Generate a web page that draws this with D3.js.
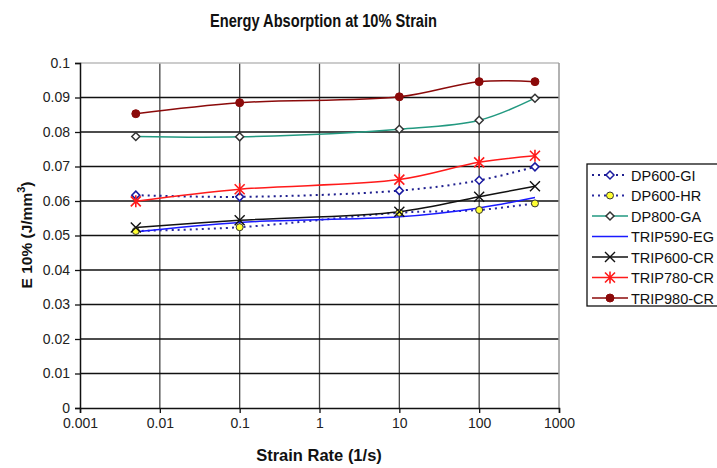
<!DOCTYPE html>
<html><head><meta charset="utf-8">
<script src="https://cdn.jsdelivr.net/npm/d3@7"></script>
<style>body{margin:0;background:#fff;}svg{display:block;font-family:Arial,"Liberation Sans",sans-serif;}</style>
</head><body><svg id="c" width="717" height="468"></svg>
<script>
const strainRates = [0.005, 0.1, 10, 100, 500];
const xTicks = [0.001, 0.01, 0.1, 1, 10, 100, 1000];
const yTicks = [0, 0.01, 0.02, 0.03, 0.04, 0.05, 0.06, 0.07, 0.08, 0.09, 0.1];
const seriesNames = ["DP600-GI","DP600-HR","DP800-GA","TRIP590-EG","TRIP600-CR","TRIP780-CR","TRIP980-CR"];
const dp600gi  = [0.0617, 0.0612, 0.0630, 0.0660, 0.0699];
const dp600hr  = [0.0513, 0.0524, 0.0566, 0.0574, 0.0593];
const dp800ga  = [0.0787, 0.0786, 0.0808, 0.0834, 0.0898];
const trip590  = [0.0511, 0.0538, 0.0554, 0.0580, 0.0610];
const trip600  = [0.0523, 0.0544, 0.0569, 0.0612, 0.0643];
const trip780  = [0.0599, 0.0634, 0.0662, 0.0712, 0.0731];
const trip980  = [0.0853, 0.0885, 0.0902, 0.0946, 0.0946];

const series = [
  {name:seriesNames[0], values:dp600gi, color:"#1f1f8f", dash:"2,4", marker:"diamond", mfill:"#fff", mstroke:"#1a1aa0"},
  {name:seriesNames[1], values:dp600hr, color:"#2a2aa0", dash:"2,4", marker:"circle", mfill:"#ffff33", mstroke:"#333"},
  {name:seriesNames[2], values:dp800ga, color:"#229980", dash:null, marker:"diamond", mfill:"#fff", mstroke:"#333"},
  {name:seriesNames[3], values:trip590, color:"#1a1aff", dash:null, marker:null},
  {name:seriesNames[4], values:trip600, color:"#111", dash:null, marker:"x", mstroke:"#111"},
  {name:seriesNames[5], values:trip780, color:"#ff1a1a", dash:null, marker:"star", mstroke:"#ff1a1a"},
  {name:seriesNames[6], values:trip980, color:"#8b0a0a", dash:null, marker:"dot", mfill:"#8b0a0a", mstroke:"#8b0a0a"}
];

const svg = d3.select("#c");
const L = 80, R = 559, T = 63, B = 408;
const x = d3.scaleLog().domain([0.001, 1000]).range([L, R]);
const y = d3.scaleLinear().domain([0, 0.1]).range([B, T]);

// gridlines
svg.append("g").selectAll("line").data(xTicks.slice(1, -1)).join("line")
  .attr("x1", d => x(d)).attr("x2", d => x(d)).attr("y1", T).attr("y2", B)
  .attr("stroke", "#444").attr("stroke-width", 1.3);
svg.append("g").selectAll("line").data(yTicks.slice(1, -1)).join("line")
  .attr("x1", L).attr("x2", R).attr("y1", d => y(d)).attr("y2", d => y(d))
  .attr("stroke", "#111").attr("stroke-width", 1.5);
// top & right border
svg.append("line").attr("x1", L).attr("x2", R).attr("y1", T).attr("y2", T).attr("stroke", "#bbb").attr("stroke-width", 1.5);
svg.append("line").attr("x1", R).attr("x2", R).attr("y1", T).attr("y2", B).attr("stroke", "#999").attr("stroke-width", 1.5);

// axes
const yAxis = d3.axisLeft(y).tickValues(yTicks).tickFormat(d => String(+d.toFixed(2))).tickSizeOuter(0).tickSize(5);
const gy = svg.append("g").attr("transform", `translate(${L},0)`).call(yAxis);
const xAxis = d3.axisBottom(x).tickValues(xTicks).tickFormat(d => String(d)).tickSizeOuter(0).tickSize(5);
const gx = svg.append("g").attr("transform", `translate(0,${B})`).call(xAxis);
[gy, gx].forEach(g => {
  g.select(".domain").attr("stroke", "#111").attr("stroke-width", 1.5);
  g.selectAll(".tick line").attr("stroke", "#111").attr("stroke-width", 1.3);
  g.selectAll("text").attr("font-family", "Arial, 'Liberation Sans', sans-serif").attr("font-size", 14).attr("fill", "#222");
});
gy.selectAll("text").attr("x", -10);
gx.selectAll("text").attr("y", 10);

// lines
const line = d3.line().x((d, i) => x(strainRates[i])).y(d => y(d)).curve(d3.curveCatmullRom.alpha(0.5));
function drawMarker(g, type, cx, cy, s) {
  if (type === "diamond") {
    g.append("path").attr("d", `M${cx},${cy-4}L${cx+4},${cy}L${cx},${cy+4}L${cx-4},${cy}Z`)
      .attr("fill", s.mfill).attr("stroke", s.mstroke).attr("stroke-width", 1.5);
  } else if (type === "circle") {
    g.append("circle").attr("cx", cx).attr("cy", cy).attr("r", 3.5).attr("fill", s.mfill).attr("stroke", s.mstroke).attr("stroke-width", 1);
  } else if (type === "dot") {
    g.append("circle").attr("cx", cx).attr("cy", cy).attr("r", 4).attr("fill", s.mfill).attr("stroke", s.mstroke);
  } else if (type === "x") {
    g.append("path").attr("d", `M${cx-5},${cy-5}L${cx+5},${cy+5}M${cx-5},${cy+5}L${cx+5},${cy-5}`)
      .attr("stroke", s.mstroke).attr("stroke-width", 1.4);
  } else if (type === "star") {
    g.append("path").attr("d", `M${cx-5},${cy-5}L${cx+5},${cy+5}M${cx-5},${cy+5}L${cx+5},${cy-5}M${cx},${cy-6}L${cx},${cy+6}`)
      .attr("stroke", s.mstroke).attr("stroke-width", 1.6);
  }
}
const gl = svg.append("g");
series.forEach(s => {
  gl.append("path").attr("d", line(s.values)).attr("fill", "none")
    .attr("stroke", s.color).attr("stroke-width", s.dash ? 2 : 1.5)
    .attr("stroke-dasharray", s.dash);
});
series.forEach(s => {
  if (!s.marker) return;
  s.values.forEach((v, i) => drawMarker(gl, s.marker, x(strainRates[i]), y(v), s));
});

// titles
svg.append("text").attr("x", 210).attr("y", 27)
  .attr("textLength", 227).attr("lengthAdjust", "spacingAndGlyphs")
  .attr("font-size", 17.5).attr("font-weight", "bold").attr("fill", "#111").text("Energy Absorption at 10% Strain");
svg.append("text").attr("x", 319).attr("y", 461).attr("text-anchor", "middle")
  .attr("font-size", 16.5).attr("font-weight", "bold").attr("fill", "#111").text("Strain Rate (1/s)");
const yt = svg.append("text").attr("transform", "translate(32,235) rotate(-90)").attr("text-anchor", "middle")
  .attr("font-size", 15.5).attr("font-weight", "bold").attr("fill", "#111");
yt.append("tspan").text("E 10% (J/mm");
yt.append("tspan").attr("font-size", 11).attr("dy", -7).text("3");
yt.append("tspan").attr("dy", 7).text(")");

// legend
const lg = svg.append("g");
lg.append("rect").attr("x", 587).attr("y", 164).attr("width", 140).attr("height", 142)
  .attr("fill", "#fff").attr("stroke", "#111").attr("stroke-width", 1.3);
series.forEach((s, i) => {
  const cy = 175 + i * 20.5;
  lg.append("line").attr("x1", 592).attr("x2", 628).attr("y1", cy).attr("y2", cy)
    .attr("stroke", s.color).attr("stroke-width", s.dash ? 2 : 1.5).attr("stroke-dasharray", s.dash);
  if (s.marker) drawMarker(lg, s.marker, 610, cy, s);
  lg.append("text").attr("x", 631).attr("y", cy + 5.5).attr("font-size", 14.5).attr("fill", "#111").text(s.name);
});
</script></body></html>
